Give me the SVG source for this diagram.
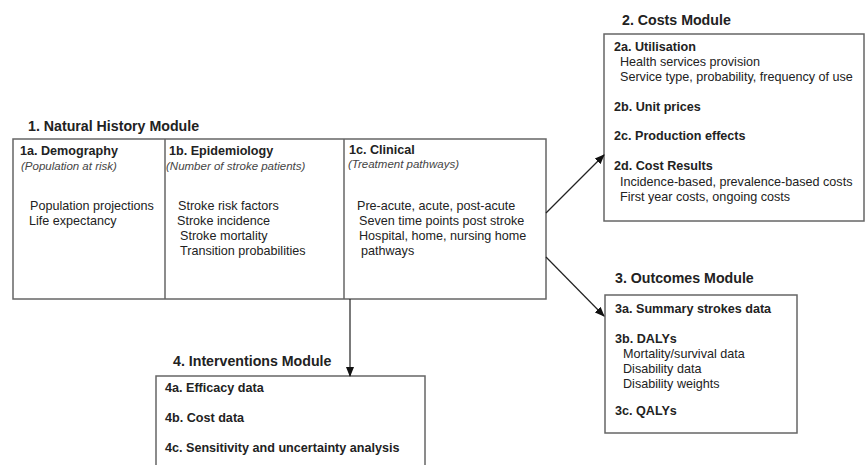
<svg xmlns="http://www.w3.org/2000/svg" width="866" height="465" viewBox="0 0 866 465">
<style>
text{font-family:"Liberation Sans",Arial,sans-serif;font-size:12.6px;fill:#222}
.t{font-size:14.2px;font-weight:bold}
.h{font-weight:bold}
.i{font-style:italic;font-size:11.5px;fill:#444}
.box{fill:#fff;stroke:#666;stroke-width:1.5}
.c{stroke:#222;stroke-width:1.2;fill:none}
</style>
<defs>
<marker id="a" markerWidth="10" markerHeight="10" refX="9" refY="5" orient="auto" markerUnits="userSpaceOnUse">
<path d="M0,1 L10,5 L0,9 Z" fill="#111"/>
</marker>
</defs>
<rect width="866" height="465" fill="#fff"/>
<g id="natural-history">
<text class="t" x="28" y="131">1. Natural History Module</text>
<rect class="box" x="13" y="139" width="533" height="160"/>
<line x1="165" y1="139" x2="165" y2="299" stroke="#666" stroke-width="1.5"/>
<line x1="344" y1="139" x2="344" y2="299" stroke="#666" stroke-width="1.5"/>
<text class="h" x="20" y="155">1a. Demography</text>
<text class="i" x="21" y="169.5">(Population at risk)</text>
<text x="30" y="210">Population projections</text>
<text x="29" y="225">Life expectancy</text>
<text class="h" x="169" y="155">1b. Epidemiology</text>
<text class="i" x="166" y="169.5">(Number of stroke patients)</text>
<text x="178" y="210">Stroke risk factors</text>
<text x="177" y="225">Stroke incidence</text>
<text x="180" y="240">Stroke mortality</text>
<text x="180" y="255">Transition probabilities</text>
<text class="h" x="349" y="154">1c. Clinical</text>
<text class="i" x="348" y="168">(Treatment pathways)</text>
<text x="357" y="210">Pre-acute, acute, post-acute</text>
<text x="359" y="225">Seven time points post stroke</text>
<text x="359" y="240">Hospital, home, nursing home</text>
<text x="361" y="255">pathways</text>
</g>
<g id="costs">
<text class="t" x="622" y="25">2. Costs Module</text>
<rect class="box" x="604" y="34" width="260" height="187"/>
<text class="h" x="614" y="51">2a. Utilisation</text>
<text x="620" y="66">Health services provision</text>
<text x="620" y="81">Service type, probability, frequency of use</text>
<text class="h" x="614" y="111">2b. Unit prices</text>
<text class="h" x="614" y="140">2c. Production effects</text>
<text class="h" x="614" y="170">2d. Cost Results</text>
<text x="620" y="186">Incidence-based, prevalence-based costs</text>
<text x="620" y="201">First year costs, ongoing costs</text>
</g>
<g id="outcomes">
<text class="t" x="615" y="283">3. Outcomes Module</text>
<rect class="box" x="605" y="295" width="192" height="138"/>
<text class="h" x="615" y="313">3a. Summary strokes data</text>
<text class="h" x="615" y="343">3b. DALYs</text>
<text x="623" y="358">Mortality/survival data</text>
<text x="623" y="373">Disability data</text>
<text x="623" y="388">Disability weights</text>
<text class="h" x="615" y="415">3c. QALYs</text>
</g>
<g id="interventions">
<text class="t" x="173" y="366">4. Interventions Module</text>
<rect class="box" x="156" y="376" width="269" height="90"/>
<text class="h" x="165" y="392">4a. Efficacy data</text>
<text class="h" x="165" y="422">4b. Cost data</text>
<text class="h" x="165" y="452">4c. Sensitivity and uncertainty analysis</text>
</g>
<g id="connectors">
<line class="c" x1="546" y1="213" x2="604" y2="155" marker-end="url(#a)"/>
<line class="c" x1="546" y1="257" x2="604" y2="316" marker-end="url(#a)"/>
<line class="c" x1="350" y1="299" x2="350" y2="376" marker-end="url(#a)"/>
</g>
</svg>
